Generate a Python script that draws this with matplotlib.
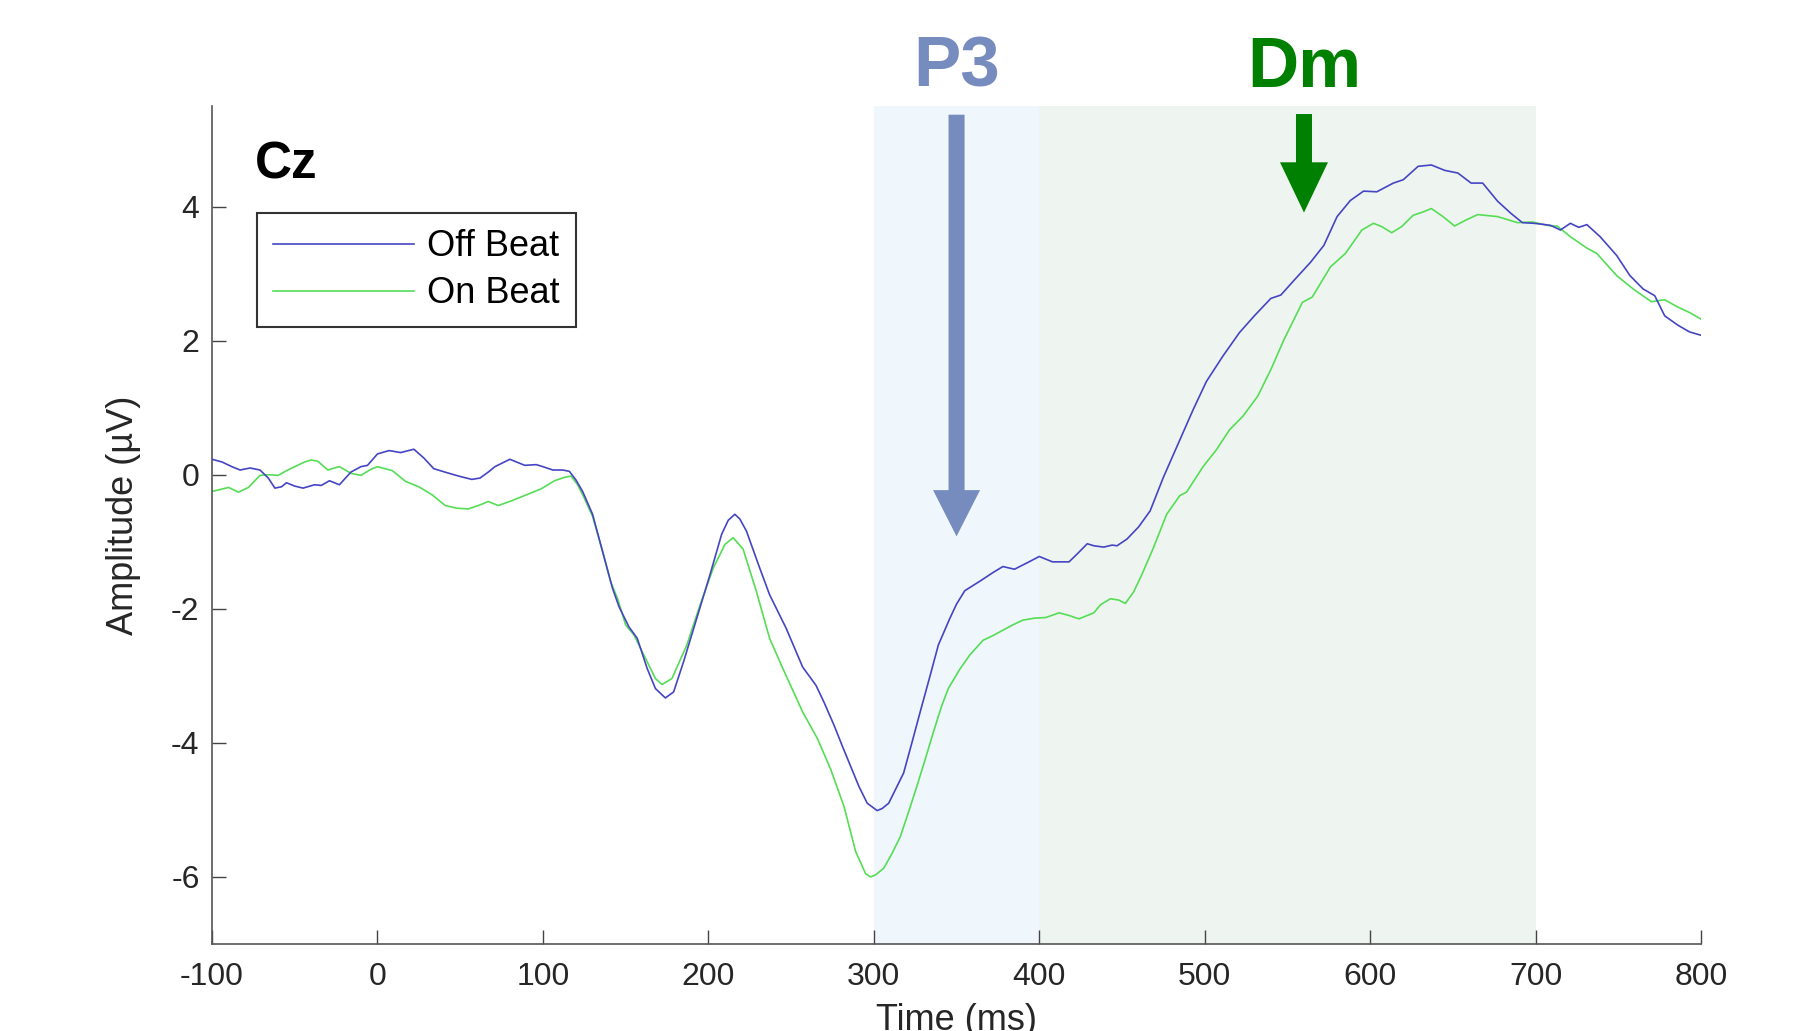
# coding:utf-8

import matplotlib.pyplot as plt

# Arial-like font, plain hyphen for negative ticks (as in the MATLAB figure)
plt.rcParams['font.family'] = ['Liberation Sans', 'DejaVu Sans']
plt.rcParams['axes.unicode_minus'] = False

# ERP at Cz, time (ms) and amplitude (uV)
t_off = [-100, -94, -88, -83, -77, -71, -66, -62, -58, -55, -50, -45, -38, -34, -29,
         -23, -16, -10, -6, 0, 7, 14, 22, 28, 34, 42, 49, 57, 62, 67,
         71, 80, 85, 89, 96, 100, 106, 112, 116, 120, 124, 130, 136, 142, 146,
         152, 157, 163, 168, 174, 179, 185, 193, 201, 208, 212, 216, 219, 223, 231,
         237, 247, 257, 265, 270, 276, 281, 286, 291, 296, 302, 305, 309, 313, 318,
         323, 328, 334, 339, 346, 350, 355, 364, 372, 378, 385, 393, 400, 408, 418,
         423, 429, 433, 439, 444, 447, 453, 460, 467, 475, 485, 493, 501, 511, 521,
         530, 540, 546, 554, 564, 572, 580, 588, 596, 604, 614, 620, 629, 637, 645,
         653, 661, 668, 677, 685, 692, 699, 709, 715, 721, 726, 731, 739, 749, 757,
         765, 772, 778, 786, 793, 800]
off_beat = [0.23, 0.19, 0.12, 0.07, 0.10, 0.07, -0.05, -0.20, -0.18, -0.12, -0.17, -0.20, -0.15, -0.16, -0.09,
            -0.15, 0.04, 0.12, 0.14, 0.31, 0.36, 0.33, 0.38, 0.25, 0.09, 0.03, -0.02, -0.07, -0.05, 0.04,
            0.12, 0.23, 0.18, 0.14, 0.15, 0.12, 0.07, 0.07, 0.05, -0.08, -0.25, -0.59, -1.14, -1.69, -1.97,
            -2.27, -2.44, -2.89, -3.19, -3.33, -3.24, -2.79, -2.14, -1.49, -0.89, -0.68, -0.59, -0.66, -0.84, -1.39,
            -1.79, -2.29, -2.87, -3.14, -3.40, -3.74, -4.05, -4.35, -4.65, -4.90, -5.01, -4.98, -4.90, -4.70, -4.45,
            -4.00, -3.54, -3.00, -2.54, -2.14, -1.93, -1.73, -1.59, -1.46, -1.37, -1.41, -1.31, -1.22, -1.30, -1.30,
            -1.18, -1.03, -1.06, -1.08, -1.05, -1.06, -0.96, -0.78, -0.54, -0.04, 0.52, 0.97, 1.39, 1.77, 2.12,
            2.37, 2.63, 2.68, 2.90, 3.17, 3.42, 3.85, 4.09, 4.23, 4.22, 4.35, 4.40, 4.60, 4.62, 4.54,
            4.50, 4.35, 4.35, 4.08, 3.90, 3.76, 3.75, 3.72, 3.65, 3.75, 3.69, 3.73, 3.55, 3.27, 2.97,
            2.77, 2.67, 2.37, 2.23, 2.13, 2.08]

t_on = [-100, -95, -90, -84, -78, -71, -66, -60, -55, -50, -44, -40, -36, -30, -26,
        -23, -16, -10, -4, 0, 9, 17, 25, 33, 41, 48, 55, 62, 67, 73,
        81, 90, 99, 107, 113, 117, 121, 125, 130, 136, 141, 145, 150, 155, 161,
        168, 172, 178, 187, 195, 203, 210, 215, 221, 229, 237, 245, 257, 266, 274,
        282, 289, 295, 298, 301, 306, 311, 316, 321, 326, 331, 336, 341, 345, 352,
        358, 366, 372, 378, 384, 390, 397, 404, 412, 418, 424, 429, 433, 437, 443,
        448, 452, 457, 462, 469, 477, 485, 489, 499, 507, 515, 523, 532, 540, 548,
        559, 565, 576, 585, 595, 602, 607, 613, 619, 626, 632, 637, 644, 651, 658,
        665, 677, 689, 698, 709, 713, 721, 731, 737, 749, 759, 770, 778, 786, 793,
        800]
on_beat = [-0.25, -0.22, -0.19, -0.26, -0.19, -0.01, 0.00, -0.01, 0.06, 0.12, 0.19, 0.22, 0.20, 0.07, 0.10,
           0.12, 0.02, -0.01, 0.08, 0.12, 0.06, -0.10, -0.18, -0.30, -0.46, -0.50, -0.51, -0.45, -0.40, -0.46,
           -0.39, -0.30, -0.21, -0.09, -0.04, -0.02, -0.15, -0.35, -0.62, -1.14, -1.60, -1.84, -2.24, -2.39, -2.69,
           -3.04, -3.13, -3.04, -2.54, -1.94, -1.39, -1.04, -0.94, -1.11, -1.74, -2.44, -2.89, -3.54, -3.94, -4.40,
           -4.95, -5.62, -5.95, -6.00, -5.97, -5.87, -5.65, -5.40, -5.03, -4.65, -4.25, -3.84, -3.45, -3.19, -2.90,
           -2.69, -2.47, -2.40, -2.32, -2.24, -2.17, -2.14, -2.13, -2.06, -2.10, -2.15, -2.10, -2.06, -1.94, -1.85,
           -1.87, -1.92, -1.75, -1.49, -1.09, -0.59, -0.31, -0.26, 0.12, 0.37, 0.67, 0.87, 1.17, 1.57, 2.02,
           2.57, 2.65, 3.10, 3.30, 3.65, 3.75, 3.70, 3.61, 3.70, 3.87, 3.92, 3.97, 3.85, 3.71, 3.80,
           3.88, 3.85, 3.76, 3.77, 3.71, 3.71, 3.55, 3.38, 3.30, 2.97, 2.77, 2.58, 2.61, 2.50, 2.42,
           2.32]

xticks = [-100, 0, 100, 200, 300, 400, 500, 600, 700, 800]
yticks = [-6, -4, -2, 0, 2, 4]

# component windows (ms) and arrow positions
p3_window = [300, 400]
dm_window = [400, 700]
p3_arrow = [350, 5.37, -0.92]   # x, start, tip
dm_arrow = [560, 5.38, 3.91]

fig = plt.figure(figsize=(18.06, 10.31), dpi=100)
ax = fig.add_axes([0.1174, 0.0844, 0.8245, 0.8128])

# shaded windows
ax.axvspan(p3_window[0], p3_window[1], color='#eff6fc', lw=0, zorder=0)
ax.axvspan(dm_window[0], dm_window[1], color='#eef5f0', lw=0, zorder=0)

# the two waveforms
ax.plot(t_off, off_beat, color='#4545c4', lw=1.2, label='Off Beat', zorder=3)
ax.plot(t_on, on_beat, color='#55dd55', lw=1.2, label='On Beat', zorder=2)

# arrows pointing at P3 and Dm
ax.arrow(p3_arrow[0], p3_arrow[1], 0, p3_arrow[2] - p3_arrow[1], width=9.7,
         head_width=28.4, head_length=0.69, length_includes_head=True,
         color='#778cbe', lw=0, zorder=4)
ax.arrow(dm_arrow[0], dm_arrow[1], 0, dm_arrow[2] - dm_arrow[1], width=9.7,
         head_width=29, head_length=0.75, length_includes_head=True,
         color='#008000', lw=0, zorder=4)

ax.text(p3_arrow[0], 5.79, 'P3', color='#778cbe', fontsize=51, fontweight='bold',
        ha='center', va='baseline')
ax.text(dm_arrow[0], 5.79, 'Dm', color='#008000', fontsize=51, fontweight='bold',
        ha='center', va='baseline')

# electrode label
ax.text(0.029, 0.913, 'Cz', transform=ax.transAxes, fontsize=37, fontweight='bold',
        va='baseline', ha='left')

# axes
ax.set_xlim(-100, 800)
ax.set_ylim(-7, 5.5)
ax.set_xticks(xticks)
ax.set_yticks(yticks)
ax.tick_params(direction='in', length=10, width=1, colors='#444444',
               labelsize=23, labelcolor='#262626')
ax.tick_params(axis='x', pad=13)
ax.tick_params(axis='y', pad=9)
for side in ['top', 'right']:
    ax.spines[side].set_visible(False)
for side in ['left', 'bottom']:
    ax.spines[side].set_color('#555555')
    ax.spines[side].set_linewidth(1.2)

ax.set_xlabel('Time (ms)', fontsize=26, color='#262626')
ax.set_ylabel('Amplitude (µV)', fontsize=26, color='#262626')
ax.xaxis.set_label_coords(0.5, -0.071)
ax.yaxis.set_label_coords(-0.048, 0.511)

# legend
leg = ax.legend(loc='upper left', bbox_to_anchor=(0.0302, 0.8723), borderaxespad=0,
                fontsize=26, handlelength=3.9, handletextpad=0.35, labelspacing=0.33,
                borderpad=0.45, fancybox=False, framealpha=1)
leg.get_frame().set_edgecolor('#333333')
leg.get_frame().set_linewidth(1.5)

plt.savefig('out.png', dpi=100)
